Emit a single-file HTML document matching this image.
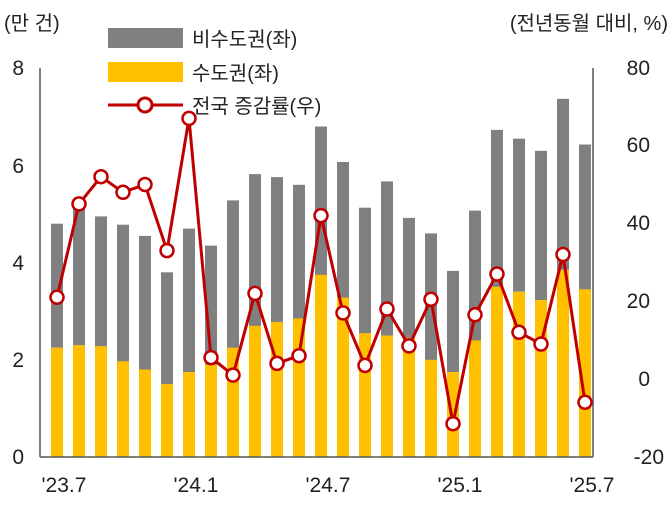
<!DOCTYPE html><html><head><meta charset="utf-8"><style>body{margin:0;background:#fff}text{font-family:"Liberation Sans","Noto Sans CJK KR",sans-serif;fill:#222}</style></head><body>
<svg width="672" height="504" viewBox="0 0 672 504" xmlns="http://www.w3.org/2000/svg">
<g fill="#808080">
<rect x="51" y="223.7" width="12" height="124"/>
<rect x="73" y="204.3" width="12" height="141"/>
<rect x="95" y="216.4" width="12" height="130"/>
<rect x="117" y="224.7" width="12" height="137"/>
<rect x="139" y="235.9" width="12" height="134"/>
<rect x="161" y="272.3" width="12" height="112"/>
<rect x="183" y="228.6" width="12" height="144"/>
<rect x="205" y="245.6" width="12" height="120"/>
<rect x="227" y="200.4" width="12" height="148"/>
<rect x="249" y="174.1" width="12" height="152"/>
<rect x="271" y="177.1" width="12" height="145"/>
<rect x="293" y="184.8" width="12" height="134"/>
<rect x="315" y="126.5" width="12" height="149"/>
<rect x="337" y="162.0" width="12" height="136"/>
<rect x="359" y="207.7" width="12" height="126"/>
<rect x="381" y="181.4" width="12" height="155"/>
<rect x="403" y="217.9" width="12" height="120"/>
<rect x="425" y="233.4" width="12" height="127"/>
<rect x="447" y="270.9" width="12" height="102"/>
<rect x="469" y="210.6" width="12" height="130"/>
<rect x="491" y="129.9" width="12" height="157"/>
<rect x="513" y="138.7" width="12" height="153"/>
<rect x="535" y="150.8" width="12" height="150"/>
<rect x="557" y="98.8" width="12" height="171"/>
<rect x="579" y="144.5" width="12" height="145"/>
</g>
<g fill="#FFC000">
<rect x="51" y="347.7" width="12" height="109.3"/>
<rect x="73" y="345.2" width="12" height="111.8"/>
<rect x="95" y="346.2" width="12" height="110.8"/>
<rect x="117" y="361.3" width="12" height="95.7"/>
<rect x="139" y="369.5" width="12" height="87.5"/>
<rect x="161" y="384.1" width="12" height="72.9"/>
<rect x="183" y="372.0" width="12" height="85"/>
<rect x="205" y="364.7" width="12" height="92.3"/>
<rect x="227" y="347.7" width="12" height="109.3"/>
<rect x="249" y="325.8" width="12" height="131.2"/>
<rect x="271" y="321.9" width="12" height="135.1"/>
<rect x="293" y="318.5" width="12" height="138.5"/>
<rect x="315" y="274.8" width="12" height="182.2"/>
<rect x="337" y="297.6" width="12" height="159.4"/>
<rect x="359" y="333.1" width="12" height="123.9"/>
<rect x="381" y="335.5" width="12" height="121.5"/>
<rect x="403" y="337.9" width="12" height="119.1"/>
<rect x="425" y="359.8" width="12" height="97.2"/>
<rect x="447" y="372.0" width="12" height="85"/>
<rect x="469" y="340.4" width="12" height="116.6"/>
<rect x="491" y="286.9" width="12" height="170.1"/>
<rect x="513" y="291.8" width="12" height="165.2"/>
<rect x="535" y="300.0" width="12" height="157"/>
<rect x="557" y="269.9" width="12" height="187.1"/>
<rect x="579" y="289.3" width="12" height="167.7"/>
</g>
<line x1="40" y1="68" x2="40" y2="457" stroke="#555" stroke-width="1.5"/>
<line x1="593" y1="68" x2="593" y2="457" stroke="#555" stroke-width="1.5"/>
<line x1="40" y1="457" x2="593" y2="457" stroke="#555" stroke-width="1.5"/>
<g font-size="21" text-anchor="end">
<text x="24" y="75">8</text><text x="24" y="173">6</text><text x="24" y="270">4</text><text x="24" y="367">2</text><text x="24" y="464">0</text></g>
<g font-size="21" text-anchor="end">
<text x="650" y="75">80</text><text x="650" y="152">60</text><text x="650" y="230">40</text><text x="650" y="308">20</text><text x="650" y="386">0</text><text x="664" y="464">-20</text></g>
<g font-size="21" text-anchor="middle">
<text x="64" y="492">'23.7</text><text x="196" y="492">'24.1</text><text x="328" y="492">'24.7</text><text x="460" y="492">'25.1</text><text x="592" y="492">'25.7</text></g>
<text x="4" y="30" font-size="20">(만 건)</text>
<text x="668" y="30" font-size="20" text-anchor="end">(전년동월 대비, %)</text>
<polyline fill="none" stroke="#C00000" stroke-width="3" points="57,297.3 79,203.9 101,176.7 123,192.3 145,184.5 167,250.6 189,118.4 211,357.6 233,375.1 255,293.4 277,363.4 299,355.7 321,215.6 343,312.9 365,365.4 387,309.0 409,345.9 431,299.3 453,423.7 475,314.8 497,274.0 519,332.3 541,344.0 563,254.5 585,402.3"/>
<g fill="#fff" stroke="#C00000" stroke-width="2.5">
<circle cx="57" cy="297.3" r="6.5"/><circle cx="79" cy="203.9" r="6.5"/><circle cx="101" cy="176.7" r="6.5"/><circle cx="123" cy="192.3" r="6.5"/><circle cx="145" cy="184.5" r="6.5"/><circle cx="167" cy="250.6" r="6.5"/><circle cx="189" cy="118.4" r="6.5"/><circle cx="211" cy="357.6" r="6.5"/><circle cx="233" cy="375.1" r="6.5"/><circle cx="255" cy="293.4" r="6.5"/><circle cx="277" cy="363.4" r="6.5"/><circle cx="299" cy="355.7" r="6.5"/><circle cx="321" cy="215.6" r="6.5"/><circle cx="343" cy="312.9" r="6.5"/><circle cx="365" cy="365.4" r="6.5"/><circle cx="387" cy="309.0" r="6.5"/><circle cx="409" cy="345.9" r="6.5"/><circle cx="431" cy="299.3" r="6.5"/><circle cx="453" cy="423.7" r="6.5"/><circle cx="475" cy="314.8" r="6.5"/><circle cx="497" cy="274.0" r="6.5"/><circle cx="519" cy="332.3" r="6.5"/><circle cx="541" cy="344.0" r="6.5"/><circle cx="563" cy="254.5" r="6.5"/><circle cx="585" cy="402.3" r="6.5"/>
</g>
<rect x="108" y="28" width="75" height="20" fill="#808080"/><text x="192" y="46" font-size="20">비수도권(좌)</text>
<rect x="108" y="62" width="75" height="20" fill="#FFC000"/><text x="192" y="80" font-size="20">수도권(좌)</text>
<line x1="108" y1="105" x2="183" y2="105" stroke="#C00000" stroke-width="3"/><circle cx="145" cy="105" r="7" fill="#fff" stroke="#C00000" stroke-width="3"/><text x="192" y="113" font-size="20">전국 증감률(우)</text>
</svg></body></html>
